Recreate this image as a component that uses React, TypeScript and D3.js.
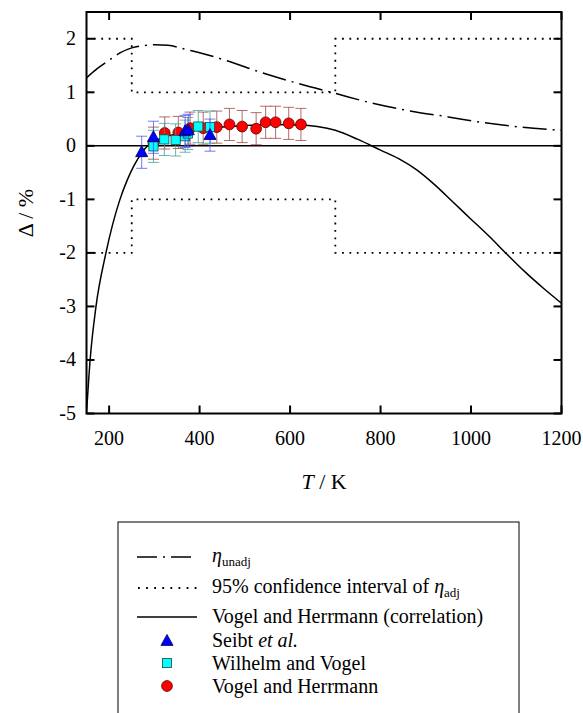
import React, { useEffect, useRef } from 'react';
import * as d3 from 'd3';

const W = 583;
const H = 713;

// Axis ticks
const xTicks = [200, 400, 600, 800, 1000, 1200];
const yTicks = [2, 1, 0, -1, -2, -3, -4, -5];

// Vogel and Herrmann correlation curve (deviation, %)
const corrT = [150, 158, 171, 193, 224, 240, 255, 270, 285, 310, 350, 400, 450, 500, 560, 620, 660, 700, 750, 800, 840, 880, 920, 960, 1000, 1040, 1080, 1120, 1160, 1200];
const corrD = [-5.0, -4.0, -3.0, -2.0, -1.0, -0.64, -0.37, -0.16, 0.0, 0.125, 0.225, 0.3, 0.35, 0.38, 0.4, 0.39, 0.36, 0.29, 0.12, -0.08, -0.24, -0.45, -0.73, -1.05, -1.37, -1.69, -2.03, -2.36, -2.66, -2.94];

// eta_unadj curve
const unadjT = [150, 175, 200, 225, 250, 275, 300, 330, 370, 400, 460, 540, 620, 700, 780, 860, 950, 1030, 1110, 1200];
const unadjD = [1.27, 1.45, 1.6, 1.74, 1.83, 1.87, 1.89, 1.88, 1.8, 1.74, 1.59, 1.36, 1.16, 0.98, 0.8, 0.66, 0.54, 0.43, 0.35, 0.29];

// 95% confidence interval of eta_adj
const ciT = [150, 250, 250, 700, 700, 1200];
const ciUpper = [2, 2, 1, 1, 2, 2];
const ciLower = [-2, -2, -1, -1, -2, -2];

// Experimental data
const seibtT = [272, 298, 368, 375, 423];
const seibtD = [-0.12, 0.16, 0.27, 0.29, 0.2];
const seibtErr = [0.3, 0.3, 0.3, 0.3, 0.3];

const wilhelmT = [298, 322, 347, 368, 374, 397, 423];
const wilhelmD = [-0.01, 0.12, 0.11, 0.18, 0.23, 0.36, 0.35];
const wilhelmErr = [0.3, 0.3, 0.3, 0.3, 0.3, 0.3, 0.3];

const vogelT = [298, 323, 353, 379, 408, 438, 466, 494, 525, 546, 568, 597, 624];
const vogelD = [0.05, 0.24, 0.25, 0.33, 0.33, 0.35, 0.4, 0.36, 0.32, 0.44, 0.44, 0.42, 0.4];
const vogelErr = [0.3, 0.3, 0.3, 0.3, 0.3, 0.3, 0.3, 0.3, 0.3, 0.3, 0.3, 0.3, 0.3];

const FF = "'Liberation Serif'";

export default function App() {
  const ref = useRef<SVGSVGElement>(null);

  useEffect(() => {
    const left = 86.5, right = 561.5, top = 12, bottom = 413.5;
    const x = d3.scaleLinear().domain([150, 1200]).range([left, right]);
    const y = d3.scaleLinear().domain([-5, 2.5]).range([bottom, top]);
    const zip = (a: number[], b: number[]) => a.map((v, i) => [v, b[i]] as [number, number]);
    const line = d3.line<[number, number]>().x((d) => x(d[0])).y((d) => y(d[1]));
    const smooth = d3.line<[number, number]>().x((d) => x(d[0])).y((d) => y(d[1])).curve(d3.curveMonotoneX);

    const svg = d3.select(ref.current!);
    svg.selectAll('*').remove();
    svg.append('rect').attr('width', W).attr('height', H).attr('fill', '#fff');

    svg.append('defs').append('clipPath').attr('id', 'plotClip')
      .append('rect').attr('x', left).attr('y', top).attr('width', right - left).attr('height', bottom - top);

    const g = svg.append('g').attr('clip-path', 'url(#plotClip)').attr('fill', 'none');
    g.append('line').attr('x1', left).attr('x2', right).attr('y1', y(0)).attr('y2', y(0)).attr('stroke', '#000').attr('stroke-width', 1.5);
    [ciUpper, ciLower].forEach((arr) => {
      g.append('path').attr('d', line(zip(ciT, arr)) || '').attr('stroke', '#000').attr('stroke-width', 1.8).attr('stroke-dasharray', '1.8,5.6');
    });
    g.append('path').attr('d', smooth(zip(unadjT, unadjD)) || '').attr('stroke', '#000').attr('stroke-width', 1.5).attr('stroke-dasharray', '24,6,2,6');
    g.append('path').attr('d', smooth(zip(corrT, corrD)) || '').attr('stroke', '#000').attr('stroke-width', 1.5);

    const capW = 5.5;
    const errBars = (T: number[], D: number[], E: number[], color: string) => {
      T.forEach((t, i) => {
        const cx = x(t), y1 = y(D[i] - E[i]), y2 = y(D[i] + E[i]);
        const eg = svg.append('g').attr('stroke', color).attr('stroke-width', 1).attr('stroke-opacity', 0.75);
        eg.append('line').attr('x1', cx).attr('x2', cx).attr('y1', y1).attr('y2', y2);
        eg.append('line').attr('x1', cx - capW).attr('x2', cx + capW).attr('y1', y1).attr('y2', y1);
        eg.append('line').attr('x1', cx - capW).attr('x2', cx + capW).attr('y1', y2).attr('y2', y2);
      });
    };
    const tri = (cx: number, cy: number, s: number) =>
      `M${cx},${cy - s * 0.6} L${cx + s * 0.55},${cy + s * 0.4} L${cx - s * 0.55},${cy + s * 0.4} Z`;

    errBars(vogelT, vogelD, vogelErr, '#9a3a3a');
    vogelT.forEach((t, i) => {
      svg.append('circle').attr('cx', x(t)).attr('cy', y(vogelD[i])).attr('r', 5.4).attr('fill', '#ff0000').attr('stroke', '#5a0000').attr('stroke-width', 0.8);
    });
    errBars(wilhelmT, wilhelmD, wilhelmErr, '#3a9a9a');
    wilhelmT.forEach((t, i) => {
      svg.append('rect').attr('x', x(t) - 4.6).attr('y', y(wilhelmD[i]) - 4.6).attr('width', 9.2).attr('height', 9.2).attr('fill', '#00ffff').attr('stroke', '#1a4a4a').attr('stroke-width', 0.8);
    });
    errBars(seibtT, seibtD, seibtErr, '#4a4aff');
    seibtT.forEach((t, i) => {
      svg.append('path').attr('d', tri(x(t), y(seibtD[i]), 11)).attr('fill', '#0000ff').attr('stroke', '#00005a').attr('stroke-width', 0.8);
    });

    svg.append('rect').attr('x', left).attr('y', top).attr('width', right - left).attr('height', bottom - top)
      .attr('fill', 'none').attr('stroke', '#000').attr('stroke-width', 2);

    const txt = (xx: number, yy: number, size: number, anchor = 'start') =>
      svg.append('text').attr('x', xx).attr('y', yy).attr('font-size', size).attr('text-anchor', anchor)
        .style('font-family', FF, 'important').style('font-size', size + 'px');

    const tick = 8;
    xTicks.forEach((t) => {
      svg.append('line').attr('x1', x(t)).attr('x2', x(t)).attr('y1', bottom).attr('y2', bottom - tick).attr('stroke', '#000').attr('stroke-width', 2);
      svg.append('line').attr('x1', x(t)).attr('x2', x(t)).attr('y1', top).attr('y2', top + tick).attr('stroke', '#000').attr('stroke-width', 2);
      txt(x(t), 445, 20, 'middle').text(String(t));
    });
    yTicks.forEach((t) => {
      svg.append('line').attr('x1', left).attr('x2', left + tick).attr('y1', y(t)).attr('y2', y(t)).attr('stroke', '#000').attr('stroke-width', 2);
      svg.append('line').attr('x1', right).attr('x2', right - tick).attr('y1', y(t)).attr('y2', y(t)).attr('stroke', '#000').attr('stroke-width', 2);
      txt(76, y(t) + 6.5, 20, 'end').text(String(t));
    });

    const xl = txt(324, 489, 22, 'middle');
    xl.append('tspan').attr('font-style', 'italic').text('T');
    xl.append('tspan').text(' / K');
    txt(0, 0, 22, 'middle').attr('transform', 'translate(33,213) rotate(-90)').text('Δ / %');

    // legend
    const lx1 = 137, lx2 = 197, mx = 167, tx = 212;
    svg.append('rect').attr('x', 118).attr('y', 522).attr('width', 401).attr('height', 220).attr('fill', 'none').attr('stroke', '#000').attr('stroke-width', 1);
    svg.append('line').attr('x1', lx1).attr('x2', lx2).attr('y1', 557).attr('y2', 557).attr('stroke', '#000').attr('stroke-width', 1.5).attr('stroke-dasharray', '20,6,2,6');
    const l1 = txt(tx, 562, 20);
    l1.append('tspan').attr('font-style', 'italic').text('η');
    l1.append('tspan').attr('dy', 4).style('font-size', '13px').text('unadj');
    svg.append('line').attr('x1', lx1 + 1).attr('x2', lx2).attr('y1', 588).attr('y2', 588).attr('stroke', '#000').attr('stroke-width', 1.8).attr('stroke-dasharray', '1.8,6.3');
    const l2 = txt(tx, 593, 20);
    l2.append('tspan').text('95% confidence interval of ');
    l2.append('tspan').attr('font-style', 'italic').text('η');
    l2.append('tspan').attr('dy', 4).style('font-size', '13px').text('adj');
    svg.append('line').attr('x1', lx1).attr('x2', lx2).attr('y1', 617).attr('y2', 617).attr('stroke', '#000').attr('stroke-width', 1.5);
    txt(tx, 623, 20).text('Vogel and Herrmann (correlation)');
    svg.append('path').attr('d', tri(mx, 641, 11)).attr('fill', '#0000ff').attr('stroke', '#00005a').attr('stroke-width', 0.8);
    const l4 = txt(tx, 647, 20);
    l4.append('tspan').text('Seibt ');
    l4.append('tspan').attr('font-style', 'italic').text('et al.');
    svg.append('rect').attr('x', mx - 4.6).attr('y', 663 - 4.6).attr('width', 9.2).attr('height', 9.2).attr('fill', '#00ffff').attr('stroke', '#1a4a4a').attr('stroke-width', 0.8);
    txt(tx, 670, 20).text('Wilhelm and Vogel');
    svg.append('circle').attr('cx', mx).attr('cy', 686).attr('r', 5.4).attr('fill', '#ff0000').attr('stroke', '#5a0000').attr('stroke-width', 0.8);
    txt(tx, 693, 20).text('Vogel and Herrmann');
  }, []);

  return <svg ref={ref} width={W} height={H} style={{ position: 'absolute', left: 0, top: 0, background: '#fff' }} />;
}
